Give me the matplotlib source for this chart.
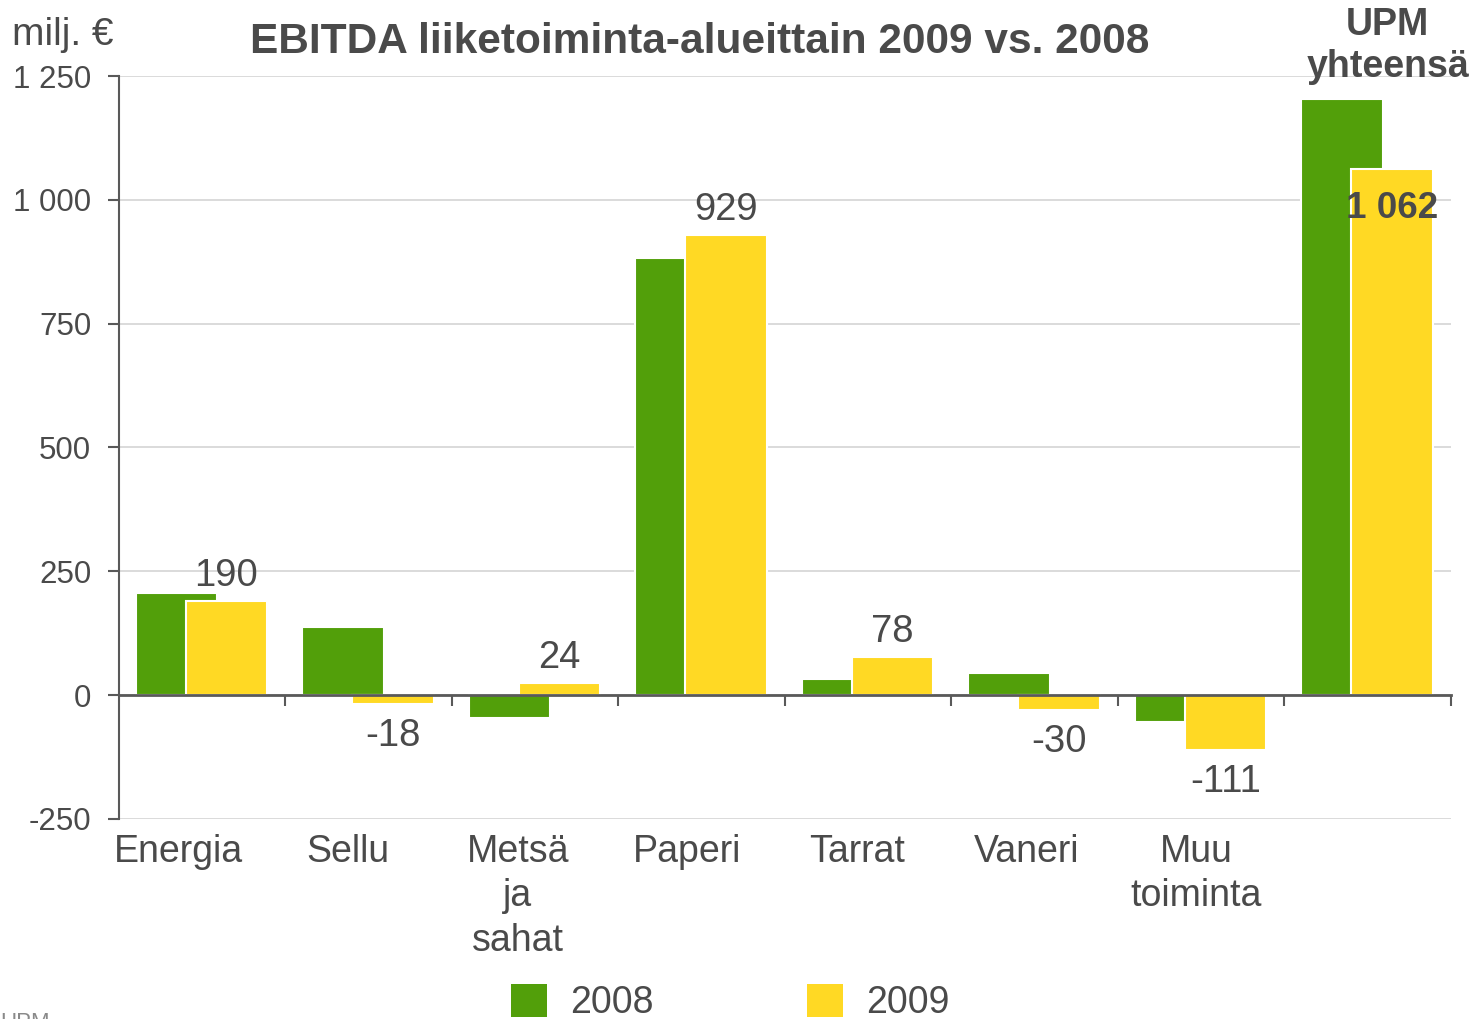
import matplotlib.pyplot as plt
from matplotlib.patches import Patch
from matplotlib.ticker import FuncFormatter

plt.rcParams['font.family'] = ['Liberation Sans', 'DejaVu Sans']

# data (milj. €)
categories = ['Energia', 'Sellu', 'Metsä\nja\nsahat', 'Paperi', 'Tarrat',
              'Vaneri', 'Muu\ntoiminta', '']
ebitda_2008 = [207, 138, -46, 882, 32, 45, -54, 1204]
ebitda_2009 = [190, -18, 24, 929, 78, -30, -111, 1062]
labels_2009 = ['190', '-18', '24', '929', '78', '-30', '-111', '1 062']
yticks = [-250, 0, 250, 500, 750, 1000, 1250]

green = '#529F0A'
yellow = '#FFD924'
txt = '#4A4A4A'
axis_col = '#595959'

fig = plt.figure(figsize=(14.72, 10.19), dpi=100)
ax = fig.add_axes([0.0808, 0.1963, 0.9049, 0.7291])

x = list(range(len(categories)))
w = 0.49
ax.bar([i - 0.155 for i in x], ebitda_2008, width=w, color=green,
       edgecolor='white', linewidth=1.5, zorder=3)
ax.bar([i + 0.145 for i in x], ebitda_2009, width=w, color=yellow,
       edgecolor='white', linewidth=1.5, zorder=4)

ax.set_xlim(-0.5, len(categories) - 0.5)
ax.set_ylim(-250, 1250)
ax.set_yticks(yticks)
ax.yaxis.set_major_formatter(FuncFormatter(lambda v, p: f'{int(v):,}'.replace(',', ' ')))
ax.grid(axis='y', color='#D4D4D4', linewidth=1.2, zorder=0)
ax.set_axisbelow(True)

for s in ['top', 'right']:
    ax.spines[s].set_visible(False)
ax.spines['left'].set_color(axis_col)
ax.spines['left'].set_linewidth(1.5)
ax.spines['bottom'].set_position(('data', 0))
ax.spines['bottom'].set_color(axis_col)
ax.spines['bottom'].set_linewidth(2)
ax.spines['bottom'].set_zorder(5)

ax.set_xticks([i + 0.5 for i in x])
ax.set_xticklabels([])
ax.tick_params(axis='x', direction='out', length=8, width=1.5, color=axis_col)
ax.tick_params(axis='y', direction='out', length=8, width=1.5, color=axis_col,
               labelsize=22.5, labelcolor=txt, pad=12)

# category labels below the plot (slightly left of the group centre)
for i, c in enumerate(categories):
    ax.text(i - 0.14 + 0.018 * i, -0.02, c, transform=ax.get_xaxis_transform(),
            ha='center', va='top', fontsize=27, color=txt, linespacing=1.3)

# 2009 value labels
for i, (v, lab) in enumerate(zip(ebitda_2009, labels_2009)):
    if i == len(categories) - 1:
        ax.annotate(lab, (i + 0.145, v), xytext=(0, -16), textcoords='offset points',
                    ha='center', va='top', fontsize=26.5, fontweight='bold',
                    color=txt, zorder=6)
    elif v >= 0:
        ax.annotate(lab, (i + 0.145, v), xytext=(0, 5), textcoords='offset points',
                    ha='center', va='bottom', fontsize=27.5, color=txt)
    else:
        ax.annotate(lab, (i + 0.145, v), xytext=(0, -10), textcoords='offset points',
                    ha='center', va='top', fontsize=27.5, color=txt)

ax.text(len(categories) - 1 + 0.12, 1.04, 'UPM\nyhteensä', transform=ax.get_xaxis_transform(),
        ha='center', va='center', fontsize=27, fontweight='bold', color=txt,
        linespacing=1.22, zorder=6)

fig.text(0.4755, 0.959, 'EBITDA liiketoiminta-alueittain 2009 vs. 2008',
         ha='center', va='center', fontsize=30.5, fontweight='bold', color=txt)
fig.text(0.008, 0.966, 'milj. €', ha='left', va='center', fontsize=28, color=txt)
fig.text(0.0, 0.0065, 'UPM', ha='left', va='top', fontsize=16, color='#8A8A8A')

handles = [Patch(facecolor=green, edgecolor='none', label='2008'),
           Patch(facecolor=yellow, edgecolor='none', label='2009')]
fig.legend(handles=handles, loc='center', bbox_to_anchor=(0.496, 0.016), ncol=2,
           frameon=False, fontsize=27, labelcolor=txt, handlelength=0.96,
           handleheight=0.96, handletextpad=0.62, columnspacing=4.1)

plt.savefig('out.png', dpi=100)
